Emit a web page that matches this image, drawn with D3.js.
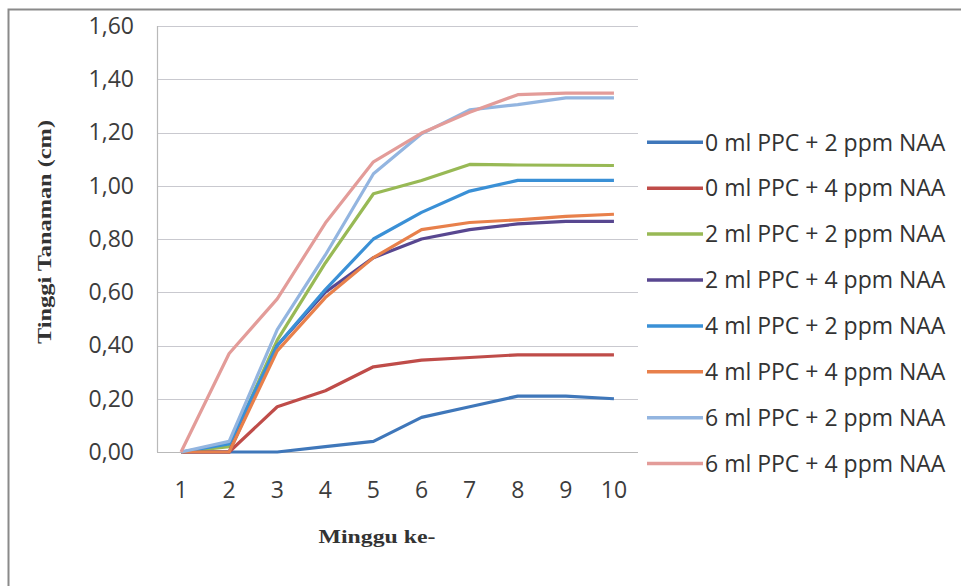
<!DOCTYPE html>
<html>
<head>
<meta charset="utf-8">
<script src="https://cdn.jsdelivr.net/npm/d3@7/dist/d3.min.js"></script>
<style>
  html, body { margin: 0; padding: 0; background: #ffffff; }
  svg { display: block; }
</style>
</head>
<body>
<svg id="chart" width="961" height="586"></svg>
<script>
// ---- data ----
const weeks = [1, 2, 3, 4, 5, 6, 7, 8, 9, 10];
const seriesNames = [
  "0 ml PPC + 2 ppm NAA",
  "0 ml PPC + 4 ppm NAA",
  "2 ml PPC + 2 ppm NAA",
  "2 ml PPC + 4 ppm NAA",
  "4 ml PPC + 2 ppm NAA",
  "4 ml PPC + 4 ppm NAA",
  "6 ml PPC + 2 ppm NAA",
  "6 ml PPC + 4 ppm NAA"
];
const s0p2 = [0.00, 0.00, 0.00, 0.02, 0.04, 0.13, 0.17, 0.21, 0.21, 0.20];
const s0p4 = [0.00, 0.00, 0.17, 0.23, 0.32, 0.345, 0.355, 0.365, 0.365, 0.365];
const s2p2 = [0.00, 0.02, 0.42, 0.71, 0.97, 1.02, 1.08, 1.078, 1.077, 1.076];
const s2p4 = [0.00, 0.00, 0.40, 0.60, 0.73, 0.80, 0.835, 0.857, 0.866, 0.866];
const s4p2 = [0.00, 0.03, 0.40, 0.61, 0.80, 0.90, 0.98, 1.02, 1.02, 1.02];
const s4p4 = [0.00, 0.00, 0.38, 0.58, 0.73, 0.835, 0.862, 0.872, 0.885, 0.893];
const s6p2 = [0.00, 0.04, 0.46, 0.74, 1.045, 1.195, 1.285, 1.305, 1.33, 1.33];
const s6p4 = [0.00, 0.37, 0.575, 0.86, 1.09, 1.198, 1.276, 1.342, 1.348, 1.348];
const seriesValues = [s0p2, s0p4, s2p2, s2p4, s4p2, s4p4, s6p2, s6p4];
const yTicks = [0, 0.2, 0.4, 0.6, 0.8, 1.0, 1.2, 1.4, 1.6];
const colors = ["#3f77ba", "#bf4c49", "#98b955", "#584790", "#3a90d6", "#e8804b", "#93b5e0", "#e39c99"];

// ---- layout ----
const svg = d3.select("#chart");
const plot = { left: 157, right: 638, top: 26, bottom: 452 };

// outer frame
svg.append("rect")
  .attr("x", 8.5).attr("y", 9.5)
  .attr("width", 1000).attr("height", 1000)
  .attr("fill", "none").attr("stroke", "#8a8a8a").attr("stroke-width", 2);

const x = d3.scaleBand().domain(weeks).range([plot.left, plot.right]).paddingInner(0).paddingOuter(0);
const cx = d => x(d) + x.bandwidth() / 2;
const y = d3.scaleLinear().domain([0, 1.6]).range([plot.bottom, plot.top]);

const fmt = v => d3.format(".2f")(v).replace(".", ",");

// gridlines
svg.append("g")
  .selectAll("line")
  .data(yTicks.filter(t => t > 0))
  .join("line")
  .attr("x1", plot.left).attr("x2", plot.right)
  .attr("y1", d => Math.round(y(d)) + 0.5).attr("y2", d => Math.round(y(d)) + 0.5)
  .attr("stroke", "#c9c9cf").attr("stroke-width", 1.2);

// axis lines
svg.append("line")
  .attr("x1", plot.left + 0.5).attr("x2", plot.left + 0.5)
  .attr("y1", plot.top).attr("y2", plot.bottom)
  .attr("stroke", "#b9b9b9").attr("stroke-width", 1.2);
svg.append("line")
  .attr("x1", plot.left).attr("x2", plot.right)
  .attr("y1", plot.bottom + 0.5).attr("y2", plot.bottom + 0.5)
  .attr("stroke", "#b9b9b9").attr("stroke-width", 1.2);

// y axis labels
const yAxis = d3.axisLeft(y).tickValues(yTicks).tickFormat(fmt).tickSize(0).tickPadding(0);
const gy = svg.append("g").attr("transform", `translate(${134},0)`).call(yAxis);
gy.select(".domain").remove();
gy.selectAll("text")
  .attr("font-family", "Open Sans, sans-serif")
  .attr("font-size", 23)
  .attr("fill", "#3c3c3c");

// x axis labels
const xAxis = d3.axisBottom(x).tickSize(0).tickPadding(0);
const gx = svg.append("g").attr("transform", `translate(0,${482})`).call(xAxis);
gx.select(".domain").remove();
gx.selectAll("text")
  .attr("font-family", "Open Sans, sans-serif")
  .attr("font-size", 23)
  .attr("fill", "#3c3c3c");

// lines
const line = d3.line().x((d, i) => cx(weeks[i])).y(d => y(d));
svg.append("g")
  .selectAll("path")
  .data(seriesValues)
  .join("path")
  .attr("d", d => line(d))
  .attr("fill", "none")
  .attr("stroke", (d, i) => colors[i])
  .attr("stroke-width", 3.2)
  .attr("stroke-linejoin", "round");

// legend
const legend = svg.append("g");
const legY = i => 142.3 + i * 45.9;
seriesNames.forEach((name, i) => {
  legend.append("line")
    .attr("x1", 647).attr("x2", 703)
    .attr("y1", legY(i)).attr("y2", legY(i))
    .attr("stroke", colors[i]).attr("stroke-width", 3.5);
  legend.append("text")
    .attr("x", 705).attr("y", legY(i))
    .attr("dy", "0.36em")
    .attr("font-family", "Open Sans, sans-serif")
    .attr("font-size", 23)
    .attr("fill", "#333333")
    .text(name);
});

// axis titles
svg.append("text")
  .attr("transform", `translate(${51},${232}) rotate(-90)`)
  .attr("text-anchor", "middle")
  .attr("font-family", "Liberation Serif, serif")
  .attr("font-weight", "bold")
  .attr("font-size", 19)
  .attr("fill", "#333333")
  .attr("textLength", 224)
  .attr("lengthAdjust", "spacingAndGlyphs")
  .text("Tinggi  Tanaman (cm)");

svg.append("text")
  .attr("x", 377).attr("y", 543)
  .attr("text-anchor", "middle")
  .attr("font-family", "Liberation Serif, serif")
  .attr("font-weight", "bold")
  .attr("font-size", 19)
  .attr("fill", "#333333")
  .attr("textLength", 117)
  .attr("lengthAdjust", "spacingAndGlyphs")
  .text("Minggu ke-");
</script>
</body>
</html>
